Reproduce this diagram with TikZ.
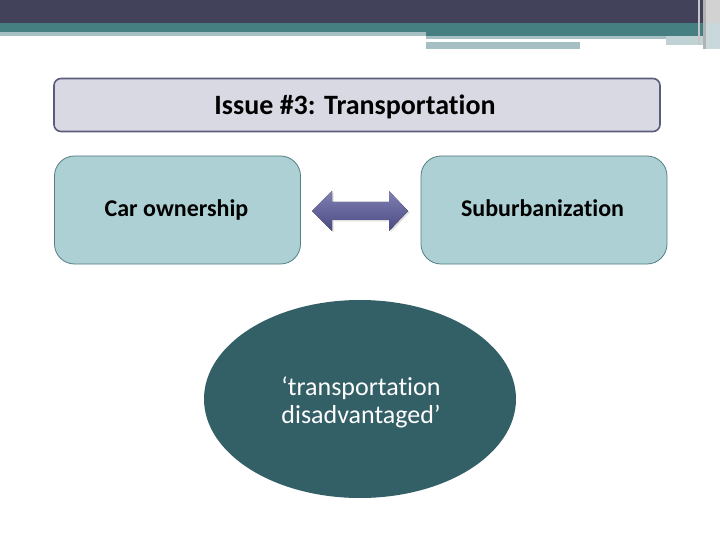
\documentclass[tikz,border=0pt]{standalone}
\usepackage{fontspec}
\setmainfont[Ligatures={NoCommon}]{Carlito}
\usetikzlibrary{shadows,shapes.geometric}
\definecolor{hdark}{HTML}{42435A}
\definecolor{hteal}{HTML}{467F82}
\definecolor{hlight}{HTML}{A5BFC2}
\definecolor{titlefill}{HTML}{D9D9E3}
\definecolor{titleline}{HTML}{5C5C7C}
\definecolor{boxfill}{HTML}{ADD0D4}
\definecolor{boxline}{HTML}{557F85}
\definecolor{ellfill}{HTML}{335F66}
\definecolor{arrtop}{HTML}{8080B4}
\definecolor{arrbot}{HTML}{4A4A82}
\tikzset{
  titlebox/.style={draw=titleline, line width=1.6pt, fill=titlefill, rounded corners=7pt,
    minimum width=606pt, minimum height=53pt, inner sep=0pt},
  titlelabel/.style={font=\bfseries\fontsize{28}{32}\selectfont, inner sep=0pt, anchor=base},
  sidebox/.style={draw=boxline, line width=0.8pt, fill=boxfill, rounded corners=20pt,
    minimum width=246pt, minimum height=108pt, inner sep=0pt},
  sidelabel/.style={font=\bfseries\fontsize{24}{28}\selectfont, inner sep=0pt, anchor=base},
  oval/.style={ellipse, fill=ellfill, minimum width=312pt, minimum height=198pt, inner sep=0pt},
  ovallabel/.style={text=white, font=\fontsize{26}{28}\selectfont, align=left, inner sep=0pt},
}
\begin{document}
\begin{tikzpicture}[x=1pt,y=-1pt]
\useasboundingbox (0,0) rectangle (720,540);
\fill[white] (0,0) rectangle (720,540);
% header
\fill[hdark] (0,0) rectangle (720,23);
\fill[hteal] (0,23) rectangle (720,32);
\fill[hteal] (426,32) rectangle (720,36);
\fill[hlight] (0,32) rectangle (426,36);
\fill[hlight] (426,36) rectangle (666,39);
\fill[hlight] (426,42) rectangle (580,49);
\fill[hlight!70] (666,36) rectangle (720,45);
\fill[gray!45] (698,0) rectangle (700,45);
\fill[gray!60] (703,0) rectangle (706,49);
\fill[gray!35] (706,0) rectangle (720,23);
\fill[hlight!60] (706,23) rectangle (720,49);
% title
\node[titlebox] (title) at (357,105) {};
\node[titlelabel] (titlel) at (355,115) {Issue \#3: Transportation};
% side boxes
\node[sidebox] (car) at (177.5,210) {};
\node[sidelabel] (carl) at (176.5,217) {Car ownership};
\node[sidebox] (sub) at (544,210) {};
\node[sidelabel] (subl) at (542.5,217) {Suburbanization};
% double arrow
\coordinate (arrc) at (360,211);
\fill[top color=arrtop, bottom color=arrbot, drop shadow={shadow xshift=1.5pt, shadow yshift=-1.5pt, fill=gray!50}]
  ([xshift=-48pt]arrc) -- ++(20,-20) -- ++(0,11) -- ++(57,0) -- ++(0,-11) -- ++(19,20)
  -- ++(-19,20) -- ++(0,-11) -- ++(-57,0) -- ++(0,11) -- cycle;
% ellipse
\node[oval] (dis) at (360,399) {};
\node[ovallabel] (disl) at (361,402) {‘transportation\\disadvantaged’};
\end{tikzpicture}
\end{document}
